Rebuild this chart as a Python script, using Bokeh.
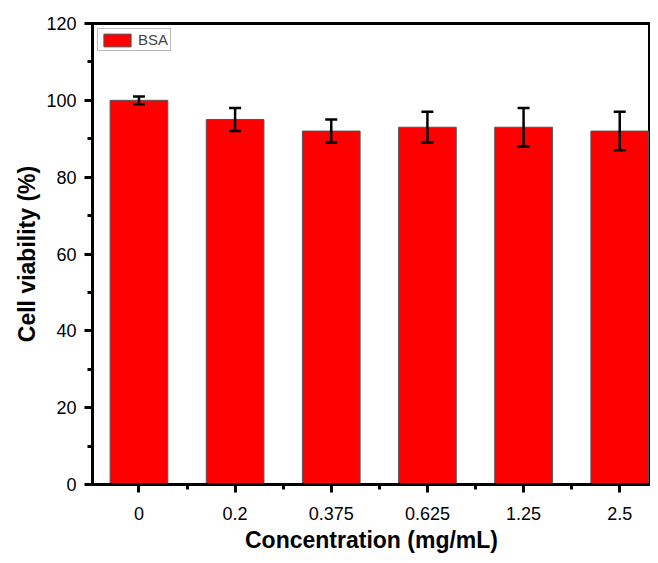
from bokeh.plotting import figure
from bokeh.models import Range1d, FixedTicker, ColumnDataSource, Whisker, Legend, LegendItem
from bokeh.embed import file_html
from bokeh.resources import INLINE

categories = ["0", "0.2", "0.375", "0.625", "1.25", "2.5"]
viability = [100, 95, 92, 93, 93, 92]
errors = [1, 3, 3, 4, 5, 5]
y_ticks = [0, 20, 40, 60, 80, 100, 120]
series_name = "BSA"

xs = list(range(len(categories)))
src = ColumnDataSource(dict(
    x=xs, top=viability,
    upper=[v + e for v, e in zip(viability, errors)],
    lower=[v - e for v, e in zip(viability, errors)],
))

p = figure(width=650, height=555, output_backend="svg", toolbar_location=None,
           x_range=Range1d(-0.483, 5.32), y_range=Range1d(0, 120),
           min_border_left=92, min_border_right=0, min_border_top=23, min_border_bottom=60)
p.background_fill_color = "white"
p.border_fill_color = "white"
p.grid.visible = False
p.outline_line_color = "black"
p.outline_line_width = 3

r = p.vbar(x="x", top="top", width=0.6, bottom=0, source=src,
           fill_color="#ff0000", line_color="#555555", line_width=1)

w = Whisker(base="x", upper="upper", lower="lower", source=src,
            line_color="black", line_width=2.5, level="overlay")
w.upper_head.size = 12
w.lower_head.size = 12
w.upper_head.line_width = 2.5
w.lower_head.line_width = 2.5
p.add_layout(w)

legend = Legend(items=[LegendItem(label=series_name, renderers=[r])], location="top_left",
                label_text_font="Liberation Sans", label_text_font_size="15px",
                glyph_width=34, glyph_height=16, label_standoff=4,
                padding=2, margin=5, spacing=0,
                border_line_color="#777777", border_line_width=1,
                label_height=16)
p.add_layout(legend)

for ax in (p.xaxis[0], p.yaxis[0]):
    ax.axis_line_width = 3
    ax.axis_line_color = "black"
    ax.major_tick_line_width = 3
    ax.minor_tick_line_width = 3
    ax.major_tick_out = 8
    ax.major_tick_in = 0
    ax.minor_tick_out = 5
    ax.minor_tick_in = 0
    ax.major_label_text_font = "Liberation Sans"
    ax.major_label_text_font_size = "18px"
    ax.major_label_text_color = "black"
    ax.axis_label_text_font = "Liberation Sans"
    ax.axis_label_text_font_style = "bold"
    ax.axis_label_text_font_size = "23px"
    ax.axis_label_text_color = "black"

p.xaxis.ticker = FixedTicker(ticks=xs, minor_ticks=[i - 0.5 for i in range(len(categories) + 1)])
p.xaxis.major_label_overrides = {i: c for i, c in enumerate(categories)}
p.xaxis.major_label_standoff = 14
p.xaxis.axis_label = "Concentration (mg/mL)"
p.xaxis.axis_label_standoff = 4

p.yaxis.ticker = FixedTicker(ticks=y_ticks, minor_ticks=[t + 10 for t in y_ticks[:-1]])
p.yaxis.major_label_standoff = 8
p.yaxis.axis_label = "Cell viability (%)"
p.yaxis.axis_label_standoff = 3

open("out.html", "w").write(file_html(p, INLINE))
